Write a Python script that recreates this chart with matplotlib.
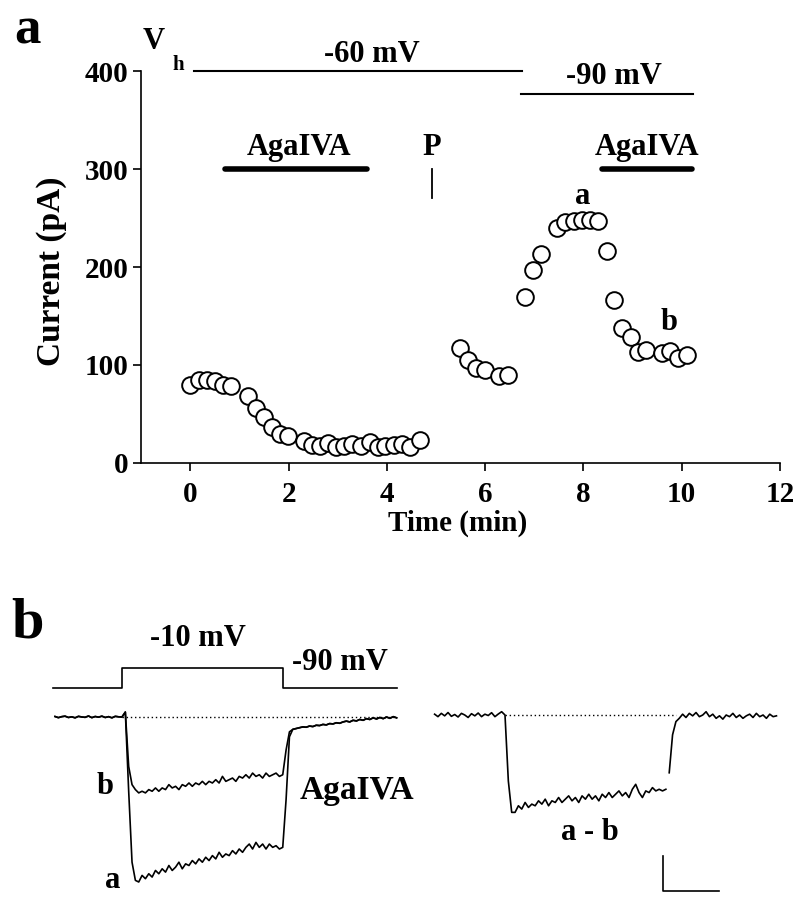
import numpy as np
import matplotlib
matplotlib.use("Agg")
import matplotlib.pyplot as plt

plt.rcParams["font.family"] = ["Liberation Serif", "DejaVu Serif"]
plt.rcParams["font.weight"] = "bold"

# ---------------- panel a: current vs time ----------------
time_min = [0.0, 0.17, 0.34, 0.50, 0.66, 0.82, 1.17, 1.33, 1.49, 1.66, 1.82, 1.98,
            2.31, 2.47, 2.63, 2.80, 2.96, 3.12, 3.28, 3.47, 3.65, 3.81, 3.97, 4.14,
            4.30, 4.46, 4.67,
            5.48, 5.64, 5.82, 5.99, 6.29, 6.47,
            6.82, 6.98, 7.14, 7.47, 7.63, 7.80, 7.98, 8.14, 8.30, 8.47, 8.63, 8.79,
            8.97, 9.12, 9.28, 9.60, 9.77, 9.93, 10.11]
current_pa = [80, 85, 85, 84, 80, 79, 68, 56, 47, 37, 30, 28,
              22, 18, 17, 20, 16, 17, 19, 17, 21, 16, 17, 18,
              19, 16, 23,
              117, 105, 97, 95, 89, 90,
              169, 197, 213, 240, 246, 247, 248, 248, 247, 216, 166, 138,
              129, 113, 115, 112, 114, 107, 110]

# holding potential bars and drug applications (start, end, level)
vh_60 = (0.07, 6.74, 400)
vh_90 = (6.72, 10.23, 377)
aga_1 = (0.70, 3.59, 300)
aga_2 = (8.37, 10.21, 300)
p_mark = (4.91, 270, 300)

# ---------------- panel b: current traces ----------------
dt = 1.25
pre_start = -25.0
pre_vals = [0.3, -0.4, 0.2, 0.5, -0.3, 0.1, -0.5, 0.4, 0.0, -0.2, 0.6,
            -0.4, 0.3, -0.1, 0.5, -0.3, 0.2, -0.5, 0.4, 0.1, 0.0]

step_a = [0, 3, -45, -88, -99, -100, -96, -98, -95, -97, -93, -95, -92, -94,
          -90, -93, -91, -88, -92, -89, -90, -87, -89, -86, -88, -85, -87, -84,
          -86, -82, -85, -83, -84, -81, -83, -80, -82, -79, -77, -80, -76, -79,
          -77, -80, -77, -79, -78, -80, -79]
step_b = [0, 3, -30, -41, -44, -46, -45, -46, -44, -45, -43, -45, -43, -44,
          -41, -43, -42, -44, -41, -42, -40, -42, -40, -41, -39, -41, -39, -40,
          -38, -40, -36, -39, -38, -37, -39, -36, -37, -35, -37, -34, -36, -35,
          -37, -34, -36, -35, -34, -36, -35]
tail_a_head = [-50, -12]
tail_b_head = [-20, -9]
tail_common = [-7.5, -7, -6.5, -6, -6.2, -5.5, -5.8, -5, -5.2, -4.5, -4.8, -4,
               -4.2, -3.5, -3.8, -3, -2.5, -3, -2, -2.4, -1.5, -2, -1, -1.5,
               -0.5, -1.2, -0.3, -1, 0, -0.8, 0.2, -0.5]

diff_pre = [0.5, -1, 1, -0.5, 1.5, -0.8, 0.3, -1.2, 1, 0, -1.5, 0.8, -0.5,
            1.2, -1, 0.5, -0.3, 1.4, -1, 0.6, 2, 0]
diff_step = [0, -40, -59, -59, -55, -57, -53, -56, -54, -55, -52, -54, -51,
             -55, -52, -53, -50, -53, -51, -49, -52, -50, -53, -49, -51, -48,
             -51, -49, -52, -48, -50, -47, -50, -48, -46, -49, -47, -50, -45,
             -42, -47, -50, -46, -47, -44, -46, -45, -46, -45]
diff_tail = [-35, -12, -4, -2, 0.5, -1.5, 1, -0.5, 1.5, -1, 0, 2, -1, 0.5, -2,
             -0.5, -2.5, 0, -1, 1, -1.5, 0, -2, -0.5, 0.5, -1.5, 1, -1, 0, -2,
             0.5, -1, -0.5]

protocol_t = [-25.7, 0, 0, 60, 60, 102.6]
protocol_mv = [-90, -90, -10, -10, -90, -90]
scale_ms, scale_pa = 21, 21

fig = plt.figure(figsize=(7.95, 8.99), dpi=100)

# ---- panel a ----
ax = fig.add_axes([0.1777, 0.4850, 0.8034, 0.4360])
ax.plot(time_min, current_pa, "o", ms=12, mfc="white", mec="black", mew=1.4,
        clip_on=False, zorder=3)
ax.set_xlim(-1, 12)
ax.set_ylim(0, 400)
ax.set_xticks(range(0, 13, 2))
ax.set_yticks(range(0, 401, 100))
for s in ("top", "right"):
    ax.spines[s].set_visible(False)
for s in ("left", "bottom"):
    ax.spines[s].set_linewidth(1.2)
ax.tick_params(direction="out", length=6, width=1.2, labelsize=21, pad=3)
ax.tick_params(axis="x", pad=7)
for lab in ax.get_xticklabels() + ax.get_yticklabels():
    lab.set_fontweight("bold")
ax.set_xlabel("Time (min)", fontsize=21, fontweight="bold")
ax.xaxis.set_label_coords(0.496, -0.12)
ax.set_ylabel("Current (pA)", fontsize=24, fontweight="bold")
ax.yaxis.set_label_coords(-0.117, 0.49)

ax.plot(vh_60[:2], [vh_60[2]] * 2, color="black", lw=1.5, clip_on=False)
ax.plot(vh_90[:2], [vh_90[2]] * 2, color="black", lw=1.5, clip_on=False)
for bar in (aga_1, aga_2):
    ax.plot(bar[:2], [bar[2]] * 2, color="black", lw=4, solid_capstyle="round")
ax.plot([p_mark[0]] * 2, p_mark[1:], color="black", lw=1.3)

txt = dict(fontsize=22, fontweight="bold", ha="center", va="center")
ax.text(-0.74, 430, "V", **txt)
ax.text(-0.25, 406, "h", fontsize=15, fontweight="bold", ha="center", va="center")
ax.text(3.69, 417, "-60 mV", **txt)
ax.text(8.63, 394, "-90 mV", **txt)
ax.text(2.21, 322, "AgaIVA", **txt)
ax.text(4.91, 322, "P", **txt)
ax.text(9.30, 322, "AgaIVA", **txt)
ax.text(7.98, 272, "a", **txt)
ax.text(9.75, 143, "b", **txt)

fig.text(27 / 795, 1 - 31 / 899, "a", fontsize=38, fontweight="bold",
         ha="center", va="center")
fig.text(27 / 795, 1 - 623 / 899, "b", fontsize=42, fontweight="bold",
         ha="center", va="center")

# ---- panel b, left traces ----
n_pre = len(pre_vals)
t_pre = pre_start + dt * np.arange(n_pre)
t_step = dt * np.arange(len(step_a))
t_tail_a = 60 + dt * (1 + np.arange(len(tail_a_head) + len(tail_common)))

axl = fig.add_axes([40 / 795, 0, 370 / 795, 299 / 899])
axl.set_xlim(-30.6, 107.5)
axl.set_ylim(-110.3, 70.9)
axl.axis("off")
for step, head in ((step_a, tail_a_head), (step_b, tail_b_head)):
    t = np.concatenate([t_pre, t_step[1:], t_tail_a])
    v = pre_vals + step[1:] + head + tail_common
    axl.plot(t, v, color="black", lw=1.2)
axl.plot([0, 102.6], [0, 0], color="black", lw=1, ls=(0, (1, 2)))

axp = fig.add_axes([40 / 795, 1 - 700 / 899, 370 / 795, 50 / 899])
axp.set_xlim(-30.6, 107.5)
axp.set_ylim(-138, 62)
axp.axis("off")
axp.plot(protocol_t, protocol_mv, color="black", lw=1.2)

# ---- panel b, right trace (a - b) ----
axr = fig.add_axes([420 / 795, 0, 370 / 795, 299 / 899])
axr.set_xlim(-31.7, 106.3)
axr.set_ylim(-111.5, 69.7)
axr.axis("off")
t_dpre = -26.25 + dt * np.arange(len(diff_pre))
t_dstep = dt * np.arange(len(diff_step))
t_dtail = 61.25 + dt * np.arange(len(diff_tail))
axr.plot(np.concatenate([t_dpre, t_dstep[1:]]), diff_pre + diff_step[1:],
         color="black", lw=1.2)
axr.plot(t_dtail, diff_tail, color="black", lw=1.2)
axr.plot([0, 63.75], [0, 0], color="black", lw=1, ls=(0, (1, 2)))
sb_x, sb_y = 59, -106.7
axr.plot([sb_x, sb_x, sb_x + scale_ms], [sb_y + scale_pa, sb_y, sb_y],
         color="black", lw=1.2)

btxt = dict(fontsize=22, fontweight="bold", ha="center", va="center")
fig.text(198 / 795, 1 - 638 / 899, "-10 mV", **btxt)
fig.text(340 / 795, 1 - 663 / 899, "-90 mV", **btxt)
fig.text(105 / 795, 1 - 786 / 899, "b", **btxt)
fig.text(113 / 795, 1 - 880 / 899, "a", **btxt)
fig.text(357 / 795, 1 - 790 / 899, "AgaIVA", fontsize=24, fontweight="bold",
         ha="center", va="center")
fig.text(590 / 795, 1 - 833 / 899, "a - b", **btxt)

fig.savefig("out.png", dpi=100)
